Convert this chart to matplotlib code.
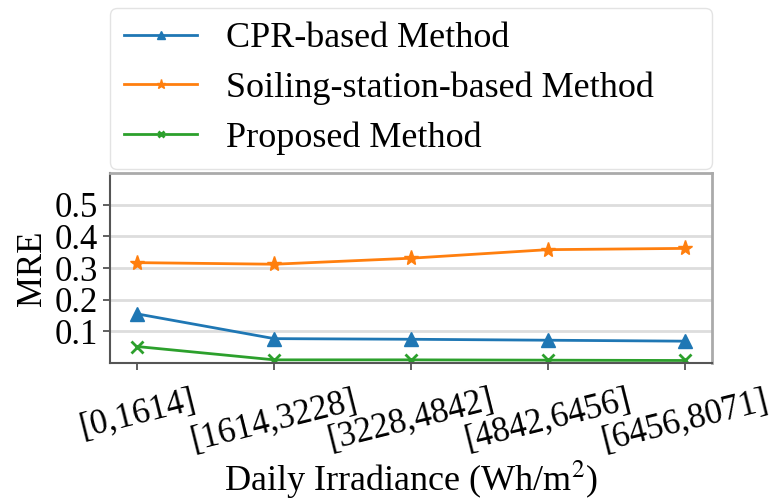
import matplotlib
matplotlib.use("Agg")
import matplotlib.pyplot as plt

plt.rcParams['font.family'] = ['Liberation Serif', 'DejaVu Serif']
plt.rcParams['mathtext.fontset'] = 'stix'

bins = ['[0,1614]', '[1614,3228]', '[3228,4842]', '[4842,6456]', '[6456,8071]']
cpr = [0.155, 0.077, 0.075, 0.072, 0.069]
soiling = [0.317, 0.312, 0.331, 0.358, 0.362]
proposed = [0.052, 0.010, 0.010, 0.009, 0.008]

fig = plt.figure(figsize=(7.73, 5.03), dpi=100)
ax = fig.add_axes([0.1423, 0.2783, 0.7787, 0.3777])

x = range(len(bins))
ax.plot(x, cpr, '-^', color='#1f77b4', lw=2, ms=10, label='CPR-based Method')
ax.plot(x, soiling, '-*', color='#ff7f0e', lw=2, ms=11, label='Soiling-station-based Method')
ax.plot(x, proposed, '-x', color='#2ca02c', lw=2, ms=8, mew=2, label='Proposed Method')

ax.set_ylim(0, 0.6)
ax.set_yticks([0.1, 0.2, 0.3, 0.4, 0.5])
ax.set_xticks(list(x))
ax.set_xticklabels(bins, rotation=14, ha='center')
ax.tick_params(labelsize=25, color='#444444', width=1.2, length=5)
ax.tick_params(axis='x', pad=10)
ax.grid(axis='y', color='#dddddd', lw=2)
ax.set_axisbelow(True)

for side in ['left', 'bottom']:
    ax.spines[side].set_color('#555555')
    ax.spines[side].set_linewidth(1.5)
for side in ['top', 'right']:
    ax.spines[side].set_color('#aaaaaa')
    ax.spines[side].set_linewidth(2)

ax.set_ylabel('MRE', fontsize=25, labelpad=4)
ax.set_xlabel('Daily Irradiance (Wh/m$^2$)', fontsize=26, labelpad=1)

ax.legend(loc='lower left', bbox_to_anchor=(0, 1.02, 1, 0.2), mode='expand',
          fontsize=26, markerscale=0.6, borderaxespad=0, labelspacing=0.45,
          edgecolor='#dddddd')

fig.savefig('out.png', dpi=100)
